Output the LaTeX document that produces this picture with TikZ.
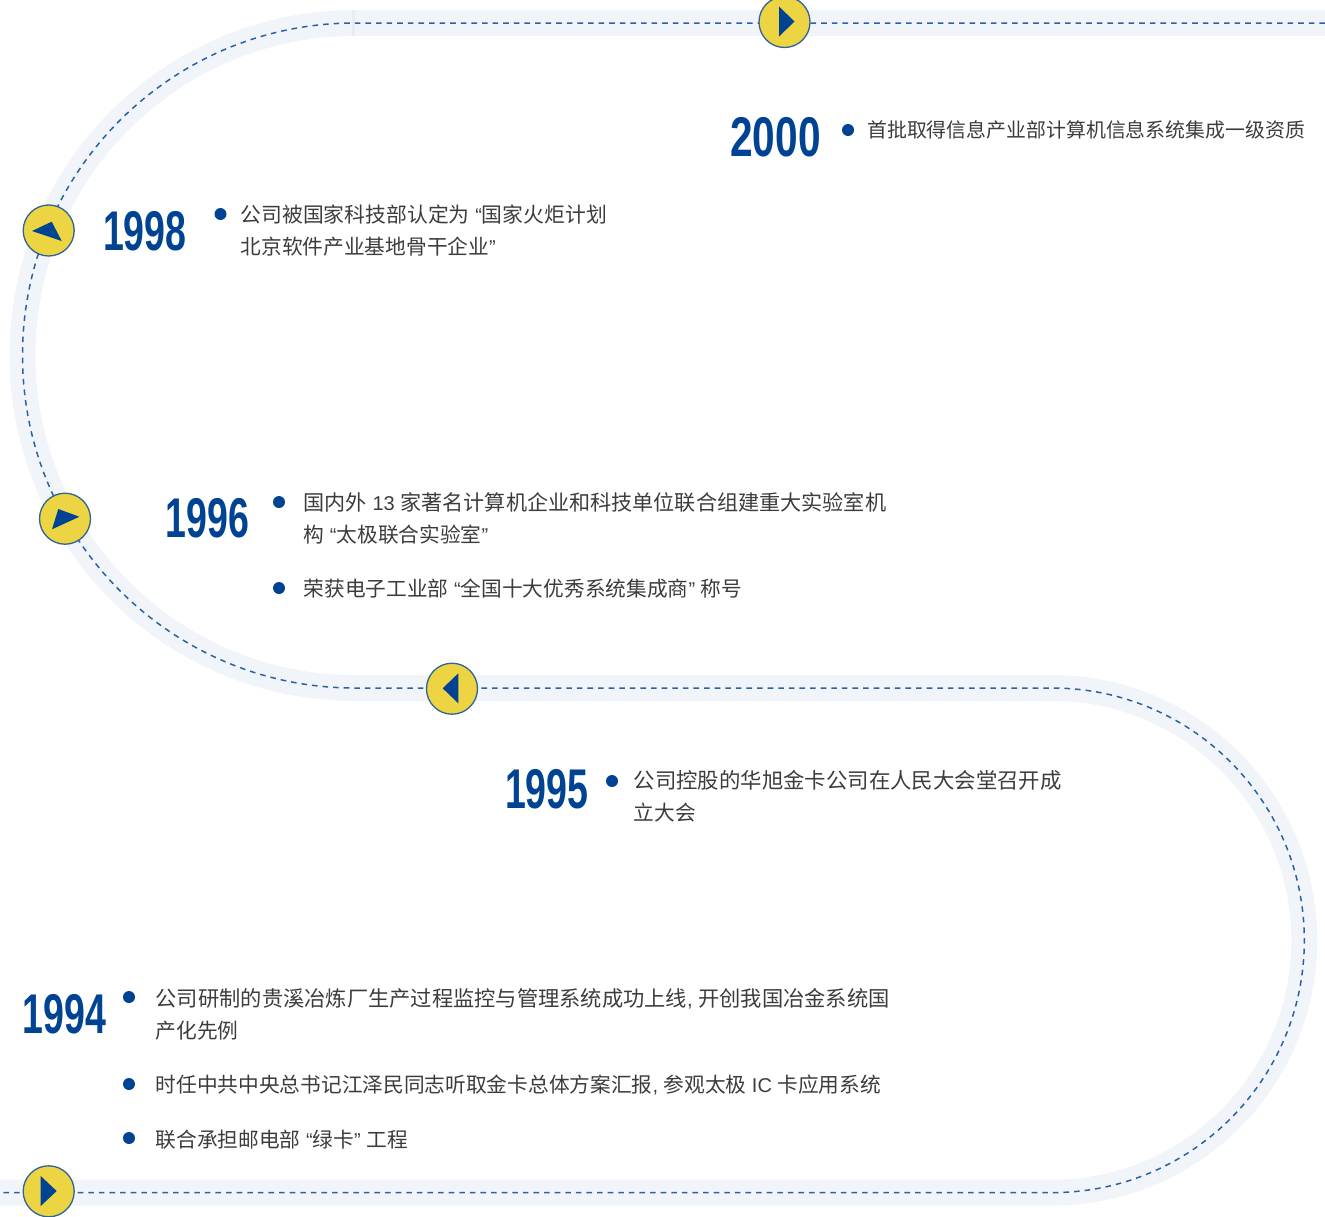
\documentclass[tikz,border=0pt]{standalone}
\usepackage{fontspec}
\setmainfont{Noto Sans CJK SC}
\newfontfamily\latfont{Liberation Sans}
\newfontfamily\yearfont[FakeStretch=0.67]{Liberation Sans Bold}
\newfontfamily\yearwide[FakeStretch=0.725]{Liberation Sans Bold}
\newcommand{\lat}[1]{{\latfont\fontsize{20}{32}\selectfont #1}}
\newcommand{\wide}[2]{{\fontsize{#1}{32}\selectfont #2}}
\definecolor{bandc}{HTML}{F1F5F9}
\definecolor{seamc}{HTML}{E8EDF4}
\definecolor{dashc}{HTML}{2A62A8}
\definecolor{navy}{HTML}{004393}
\definecolor{yellowc}{HTML}{ECD443}
\definecolor{rimc}{HTML}{2F6496}
\definecolor{textc}{HTML}{3C3C3C}
\tikzset{
  bandline/.style={draw=bandc,line width=26pt,line cap=butt},
  dashline/.style={draw=dashc,line width=1.5pt,dash pattern=on 5.6pt off 5pt},
  marker/.style={circle,draw=rimc,line width=1.3pt,fill=yellowc,minimum size=51pt,inner sep=0pt},
  pointer/.style={fill=navy,draw=none},
  bullet/.style={circle,fill=navy,minimum size=12pt,inner sep=0pt},
  yearlabel/.style={text=navy,inner sep=0pt,anchor=center,font=\yearfont\fontsize{56}{56}\selectfont},
  txt/.style={text=textc,inner sep=0pt,anchor=north west,align=left,font=\fontsize{20.7}{32}\selectfont},
}
\newcommand{\st}{\rule{0pt}{17pt}}
\begin{document}
\begin{tikzpicture}[x=1pt,y=1pt,yscale=-1]
\useasboundingbox (0,0) rectangle (1325,1216);
\clip (0,0) rectangle (1325,1216);
\draw[bandline] (1325,23) -- (355,23) arc[start angle=-90,end angle=-270,radius=332.5pt] -- (1052,688) arc[start angle=-90,end angle=90,radius=252.3pt] -- (0,1192.6);
\fill[seamc] (352,10) rectangle (355,36);
\draw[dashline] (1325,23) -- (355,23) arc[start angle=-90,end angle=-270,radius=332.5pt] -- (1052,688) arc[start angle=-90,end angle=90,radius=252.3pt] -- (0,1192.6);
% markers
\node[marker] (m2000) at (784.5,22) {};
\node[marker] (m1998) at (48.7,230.5) {};
\node[marker] (m1996) at (65,518.7) {};
\node[marker] (m1995) at (452,688.7) {};
\node[marker] (m1994) at (48.7,1191.3) {};
\fill[pointer] (779,6.5) -- (794.5,21.5) -- (779,36.5) -- cycle;
\fill[pointer] (32,231) -- (51.7,221.7) -- (61.7,241) -- cycle;
\fill[pointer] (58.3,509) -- (79.3,516.7) -- (52,529.3) -- cycle;
\fill[pointer] (442.7,688.3) -- (458.3,673.3) -- (458.3,703.3) -- cycle;
\fill[pointer] (40.7,1176) -- (56.7,1191) -- (40.7,1206) -- cycle;
% years
\node[yearlabel,font=\yearwide\fontsize{56}{56}\selectfont] (y2000) at (775.5,137.5) {2000};
\node[yearlabel] (y1998) at (144.8,231.5) {1998};
\node[yearlabel] (y1996) at (207.3,518.5) {1996};
\node[yearlabel] (y1995) at (546.8,789) {1995};
\node[yearlabel] (y1994) at (64.2,1014.5) {1994};
% bullets
\node[bullet] (b1) at (848,130) {};
\node[bullet] (b2) at (220.5,214) {};
\node[bullet] (b3) at (279,502) {};
\node[bullet] (b4) at (279,588) {};
\node[bullet] (b5) at (612,781) {};
\node[bullet] (b6) at (129,997) {};
\node[bullet] (b7) at (129,1084) {};
\node[bullet] (b8) at (129,1138) {};
% texts
\node[txt,font=\fontsize{19.9}{32}\selectfont] (t1) at (867,120) {\st 首批取得信息产业部计算机信息系统集成一级资质};
\node[txt] (t2) at (240.5,205) {\st \wide{20.82}{公司被国家科技部认定为\lat{ “}国家火炬计划}\\北京软件产业基地骨干企业\lat{”}};
\node[txt] (t3) at (303.5,492.5) {\st \wide{21.12}{国内外\lat{ 13 }家著名计算机企业和科技单位联合组建重大实验室机}\\构\lat{ “}太极联合实验室\lat{”}};
\node[txt] (t4) at (303.5,579) {\st 荣获电子工业部\lat{ “}全国十大优秀系统集成商\lat{” }称号};
\node[txt] (t5) at (633.5,770) {\st \wide{21.4}{公司控股的华旭金卡公司在人民大会堂召开成}\\立大会};
\node[txt] (t6) at (155.5,988) {\st \wide{21.26}{公司研制的贵溪冶炼厂生产过程监控与管理系统成功上线\lat{, }开创我国冶金系统国}\\产化先例};
\node[txt] (t7) at (155.5,1075) {\st 时任中共中央总书记江泽民同志听取金卡总体方案汇报\lat{, }参观太极\lat{ IC }卡应用系统};
\node[txt] (t8) at (155.5,1130) {\st 联合承担邮电部\lat{ “}绿卡\lat{” }工程};
\end{tikzpicture}
\end{document}
